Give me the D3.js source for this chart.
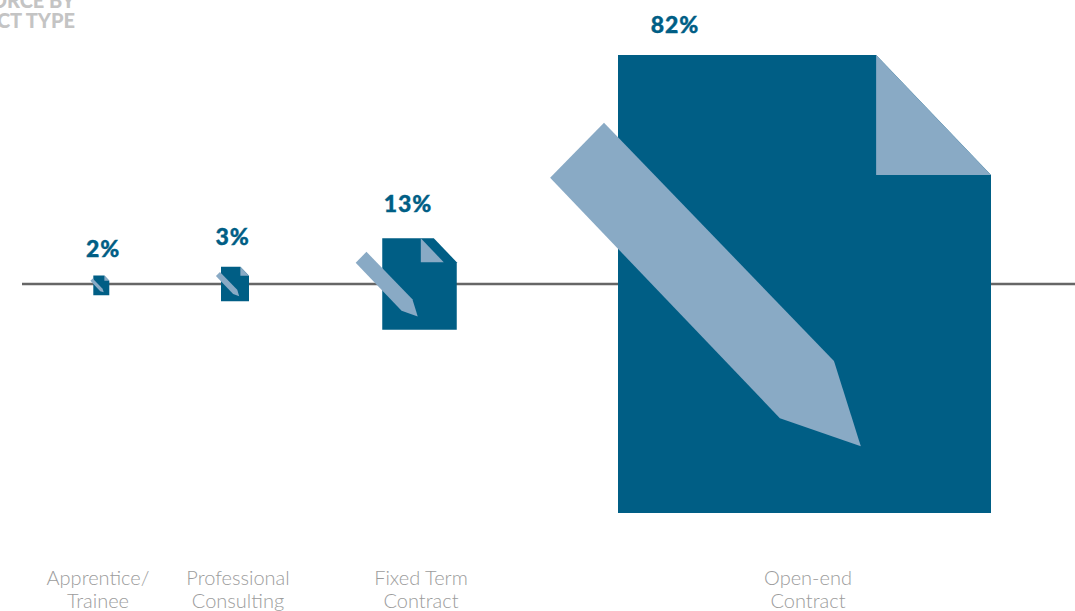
<!DOCTYPE html>
<html>
<head>
<title>Workforce by contract type</title>
<script src="https://d3js.org/d3.v7.min.js"></script>
<style>
  html, body { margin: 0; padding: 0; background: #fff; overflow: hidden; }
  svg { display: block; }
  .title { font-family: Lato, sans-serif; font-weight: 900; font-size: 20px; fill: #c4c4c4; text-anchor: end; }
  .value { font-family: Lato, sans-serif; font-weight: 900; font-size: 23px; letter-spacing: 0.9px; fill: #005e85; stroke: #005e85; stroke-width: 0.4px; text-anchor: middle; }
  .cat { font-family: Lato, sans-serif; font-weight: 300; font-size: 20px; fill: #9c9c9c; text-anchor: middle; }
</style>
</head>
<body>
<div id="chart"></div>
<script>
const categories = ["Apprentice/\nTrainee", "Professional\nConsulting", "Fixed Term\nContract", "Open-end\nContract"];
const shares = [2, 3, 13, 82];
const titleLines = ["WORKFORCE BY", "CONTRACT TYPE"];

const width = 1075, height = 611, lineY = 284;

const svg = d3.select("#chart").append("svg")
  .attr("width", width)
  .attr("height", height);

// icons are not strictly proportional in the original, so the scale has a knot per value
const widthScale = d3.scaleLinear().domain(shares).range([16, 28, 74.5, 373]);
const centerX = d3.scaleOrdinal(categories, [101.3, 235, 419.5, 804.5]);
const centerY = d3.scaleOrdinal(categories, [285.4, 284, 284, 284]);
const labelX = d3.scaleOrdinal(categories, [98, 238, 421, 808]);
const valueX = d3.scaleOrdinal(categories, [103, 232.5, 408, 675]);
const valueGap = d3.scaleOrdinal(categories, [19, 22, 26, 22]);
// pen and fold sit further left on the fixed term icon
const innerShift = d3.scaleOrdinal(categories, [0, 0, -13, 0]);

// icon shapes in unit coordinates of the sheet
const sheetShape = [[0, 0], [0.692, 0], [1, 0.262], [1, 1], [0, 1]];
const foldShape = [[0.692, 0], [0.692, 0.262], [1, 0.262]];
const penShape = [[-0.0375, 0.148], [-0.182, 0.268], [0.434, 0.793], [0.651, 0.854], [0.579, 0.668]];
const aspect = 458 / 373;

const rows = categories.map((c, i) => ({ category: c, share: shares[i] }));

svg.append("line")
  .attr("x1", 22).attr("x2", width)
  .attr("y1", lineY).attr("y2", lineY)
  .attr("stroke", "#666666")
  .attr("stroke-width", 2.6);

const icons = svg.selectAll("g.icon")
  .data(rows)
  .join("g")
  .attr("class", "icon");

const shapePath = (d, shape, shift) => {
  const w = widthScale(d.share), h = w * aspect;
  const cx = centerX(d.category), cy = centerY(d.category);
  const x = d3.scaleLinear().domain([0, 1]).range([cx - w / 2 + shift, cx + w / 2 + shift]);
  const y = d3.scaleLinear().domain([0, 1]).range([cy - h / 2, cy + h / 2]);
  return d3.line().x(p => x(p[0])).y(p => y(p[1]))(shape) + "Z";
};

icons.append("path")
  .attr("d", d => shapePath(d, sheetShape, 0))
  .attr("fill", "#005e85");
icons.append("path")
  .attr("d", d => shapePath(d, foldShape, innerShift(d.category)))
  .attr("fill", "#89aac5");
icons.append("path")
  .attr("d", d => shapePath(d, penShape, innerShift(d.category)))
  .attr("fill", "#89aac5");

svg.selectAll("text.value")
  .data(rows)
  .join("text")
  .attr("class", "value")
  .attr("x", d => valueX(d.category))
  .attr("y", d => centerY(d.category) - widthScale(d.share) * aspect / 2 - valueGap(d.category))
  .text(d => d.share + "%");

svg.selectAll("text.cat")
  .data(rows)
  .join("text")
  .attr("class", "cat")
  .attr("x", d => labelX(d.category))
  .selectAll("tspan")
  .data(d => d.category.split("\n").map((t, i) => ({ t, i })))
  .join("tspan")
  .attr("x", function () { return d3.select(this.parentNode).attr("x"); })
  .attr("y", d => 585 + d.i * 23)
  .text(d => d.t);

svg.selectAll("text.title")
  .data(titleLines)
  .join("text")
  .attr("class", "title")
  .attr("x", 75)
  .attr("y", (d, i) => 8 + i * 20)
  .text(d => d);
</script>
</body>
</html>
